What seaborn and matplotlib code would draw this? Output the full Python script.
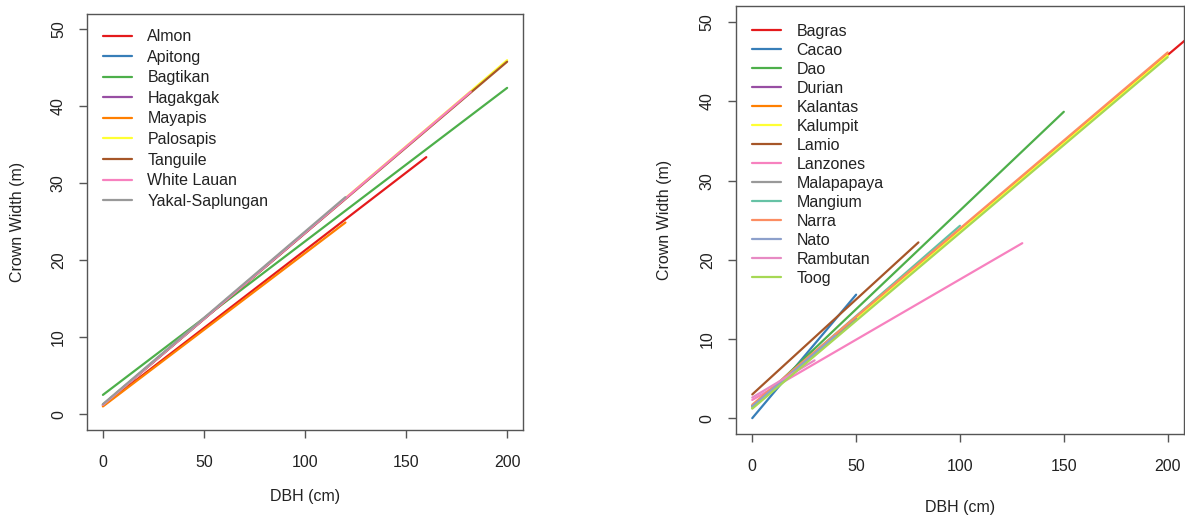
import matplotlib
matplotlib.use("Agg")
import matplotlib.pyplot as plt
import pandas as pd
import seaborn as sns

# Crown width (m) vs DBH (cm): fitted lines per species, start/end of each fitted range
left_species = ["Almon", "Apitong", "Bagtikan", "Hagakgak", "Mayapis",
                "Palosapis", "Tanguile", "White Lauan", "Yakal-Saplungan"]
left_dbh_start = [0, 0, 0, 0, 0, 0, 0, 0, 0]
left_dbh_end = [160, 110, 200, 100, 120, 200, 200, 182, 120]
left_cw_start = [1.1, 1.2, 2.5, 1.2, 1.0, 1.2, 1.2, 1.2, 1.3]
left_cw_end = [33.4, 25.8, 42.4, 23.6, 24.9, 46.0, 45.8, 41.9, 28.2]

right_species = ["Bagras", "Cacao", "Dao", "Durian", "Kalantas", "Kalumpit", "Lamio",
                 "Lanzones", "Malapapaya", "Mangium", "Narra", "Nato", "Rambutan", "Toog"]
right_dbh_start = [0, 0, 0, 0, 0, 0, 0, 0, 0, 0, 0, 0, 0, 0]
right_dbh_end = [215, 50, 150, 60, 200, 200, 80, 130, 50, 100, 200, 40, 30, 200]
right_cw_start = [1.5, 0.0, 1.3, 1.5, 1.5, 1.4, 3.0, 2.3, 1.5, 1.5, 1.7, 1.5, 2.6, 1.2]
right_cw_end = [49.2, 15.6, 38.7, 14.8, 45.9, 45.8, 22.2, 22.1, 12.6, 24.3, 46.2, 10.4, 7.3, 45.6]

x_ticks = [0, 50, 100, 150, 200]
y_ticks = [0, 10, 20, 30, 40, 50]

# RColorBrewer Set1 followed by Set2
palette = ["#E41A1C", "#377EB8", "#4DAF4A", "#984EA3", "#FF7F00", "#FFFF33",
           "#A65628", "#F781BF", "#999999", "#66C2A5", "#FC8D62", "#8DA0CB",
           "#E78AC3", "#A6D854"]

sns.set_style("white")
plt.rcParams["font.family"] = ["Liberation Sans", "DejaVu Sans"]

TEXT = "#222222"
EDGE = "#555555"
FS = 11.5


def long_frame(names, x0, x1, y0, y1):
    rows = []
    for n, a, b, c, d in zip(names, x0, x1, y0, y1):
        rows.append({"Species": n, "DBH": a, "CW": c})
        rows.append({"Species": n, "DBH": b, "CW": d})
    return pd.DataFrame(rows)


def draw(ax, names, x0, x1, y0, y1, xlab_y, leg_anchor, spacing):
    df = long_frame(names, x0, x1, y0, y1)
    colors = dict(zip(names, palette[:len(names)]))
    sns.lineplot(data=df, x="DBH", y="CW", hue="Species", hue_order=names,
                 palette=colors, estimator=None, sort=False, lw=1.6, ax=ax)
    ax.set_xlim(-8, 208)
    ax.set_ylim(-2, 52)
    ax.set_xticks(x_ticks)
    ax.set_yticks(y_ticks)
    ax.tick_params(axis="both", direction="out", length=6, width=1.0, color=EDGE,
                   labelsize=FS, labelcolor=TEXT, bottom=True, left=True)
    ax.tick_params(axis="x", pad=12)
    ax.tick_params(axis="y", pad=9)
    for lab in ax.get_yticklabels():
        lab.set_rotation(90)
        lab.set_va("center")
    for s in ax.spines.values():
        s.set_visible(True)
        s.set_color(EDGE)
        s.set_linewidth(1.0)
    ax.set_xlabel("DBH (cm)", fontsize=FS, color=TEXT)
    ax.set_ylabel("Crown Width (m)", fontsize=FS, color=TEXT)
    ax.xaxis.set_label_coords(0.5, xlab_y)
    ax.yaxis.set_label_coords(-0.142, 0.5)
    leg = ax.legend(loc="upper left", frameon=False, fontsize=FS,
                    handlelength=1.85, handletextpad=0.95, labelspacing=spacing,
                    borderaxespad=0.0, bbox_to_anchor=leg_anchor)
    for t in leg.get_texts():
        t.set_color(TEXT)


fig = plt.figure(figsize=(11.85, 5.19), dpi=100)
ax1 = fig.add_axes([0.0732, 0.1724, 0.3684, 0.8006])
ax2 = fig.add_axes([0.6208, 0.1638, 0.3786, 0.8237])

draw(ax1, left_species, left_dbh_start, left_dbh_end, left_cw_start, left_cw_end,
     -0.143, (0.022, 0.979), 0.35)
draw(ax2, right_species, right_dbh_start, right_dbh_end, right_cw_start, right_cw_end,
     -0.154, (0.0214, 0.974), 0.25)

fig.savefig("out.png", dpi=100, facecolor="white")
